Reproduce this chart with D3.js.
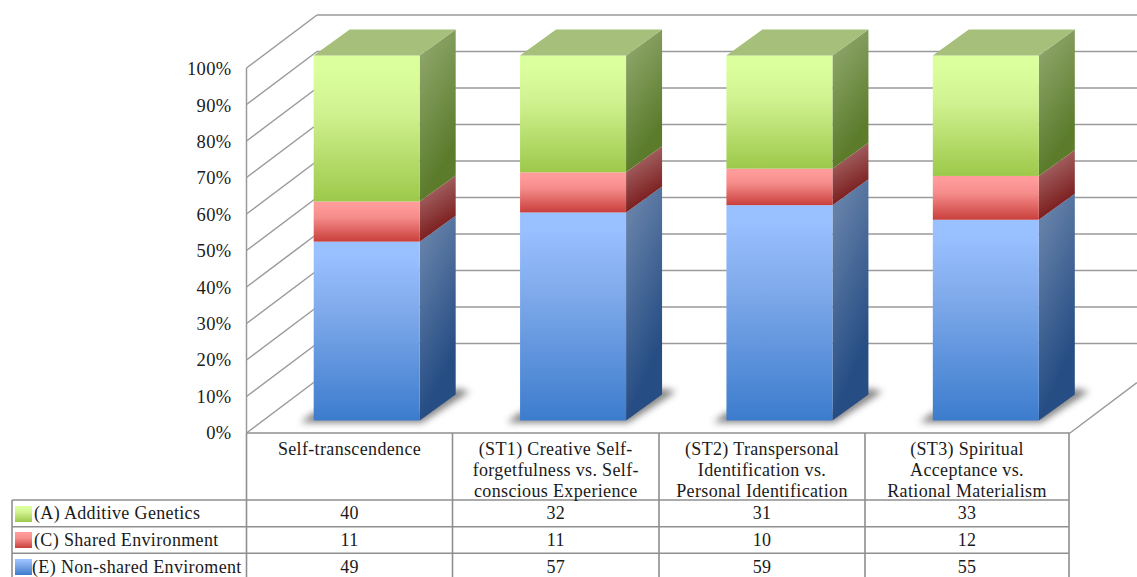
<!DOCTYPE html>
<html><head><meta charset="utf-8">
<script src="https://cdn.jsdelivr.net/npm/d3@7"></script>
<style>
html,body{margin:0;padding:0;background:#fff;overflow:hidden}
svg{display:block}
text{font-family:"Liberation Serif",serif;font-size:18px;fill:#1a1a1a;letter-spacing:.35px}
</style></head><body>
<svg id="c" width="1137" height="577"></svg>
<script>
const categories = ["Self-transcendence","(ST1) Creative Self-forgetfulness vs. Self-conscious Experience","(ST2) Transpersonal Identification vs. Personal Identification","(ST3) Spiritual Acceptance vs. Rational Materialism"];
const categoryLines = [["Self-transcendence"],["(ST1) Creative Self-","forgetfulness vs. Self-","conscious Experience"],["(ST2) Transpersonal","Identification vs.","Personal Identification"],["(ST3) Spiritual","Acceptance vs.","Rational Materialism"]];
const seriesNames = ["(A) Additive Genetics","(C) Shared Environment","(E) Non-shared Enviroment"];
const additive = [40,32,31,33];
const shared = [11,11,10,12];
const nonShared = [49,57,59,55];
const tickValues = [0,10,20,30,40,50,60,70,80,90,100];

const svg = d3.select("#c");
const defs = svg.append("defs");
const grid="#9a9a9a", tbl="#8f8f8f";

// layout
const W={l:246.5,r:1070,bot:433,top:68};
const wallD={x:70.5,y:-53};
const barD={x:36,y:-26};
const yAxisScale=d3.scaleLinear().domain([0,100]).range([W.bot-.5,W.top+1]);
const yBar=d3.scaleLinear().domain([0,100]).range([420.5,55.5]);
const yBack=d3.scaleLinear().domain([0,100]).range([380,15]);
const xBand=d3.scaleBand().domain(categories).range([W.l,1072]).paddingInner(0).paddingOuter(0);
const barW=106;
const barX=c=>xBand(c)+xBand.bandwidth()/2-barW/2+17;

// gradients
const palettes=[
 {k:"a",f:["#dcff9d","#d0f18f","#9cc94a"],s:["#8ca468","#5c7c2c"]},
 {k:"c",f:["#ff9c9b","#f58c8a","#c93f3c"],s:["#a96c6c","#7c1f1f"]},
 {k:"e",f:["#99c0ff","#7ea9ea","#3c7ccd"],s:["#6480a8","#264d84"]}];
palettes.forEach(p=>{
  const g=defs.append("linearGradient").attr("id","f"+p.k).attr("x1",0).attr("y1",0).attr("x2",0).attr("y2",1);
  g.selectAll("stop").data(p.f).join("stop").attr("offset",(d,i)=>[0.08,0.4,1][i]).attr("stop-color",d=>d);
  const s=defs.append("linearGradient").attr("id","s"+p.k).attr("x1",0).attr("y1",0).attr("x2",0.35).attr("y2",1);
  s.selectAll("stop").data(p.s).join("stop").attr("offset",(d,i)=>[0.15,0.9][i]).attr("stop-color",d=>d);
});
defs.append("filter").attr("id","blur").attr("x","-20%").attr("y","-50%").attr("width","140%").attr("height","200%")
  .append("feGaussianBlur").attr("stdDeviation",3.6);

// walls
const gWall=svg.append("g").attr("fill","none").attr("stroke",grid).attr("stroke-width",1.5);
gWall.selectAll("line.b").data(tickValues.slice(1)).join("line").attr("class","b")
  .attr("x1",W.l+wallD.x).attr("x2",1137).attr("y1",d=>yBack(d)).attr("y2",d=>yBack(d));
gWall.selectAll("line.d").data(tickValues).join("line").attr("class","d")
  .attr("x1",W.l).attr("x2",W.l+wallD.x)
  .attr("y1",d=>yBack(d)-wallD.y).attr("y2",d=>yBack(d));
gWall.append("line").attr("x1",W.l).attr("x2",W.l).attr("y1",yBack(100)-wallD.y).attr("y2",W.bot);
gWall.append("line").attr("x1",W.r).attr("y1",W.bot).attr("x2",1137).attr("y2",W.bot+ (1137-W.r)*wallD.y/wallD.x);

// axis labels
const ax=svg.append("g").attr("transform",`translate(${W.l-11},0)`)
  .call(d3.axisLeft(yAxisScale).tickValues(tickValues).tickFormat(d=>d+"%").tickSize(0).tickPadding(4));
ax.select(".domain").remove();
ax.selectAll("text").style("font-family",'"Liberation Serif",serif').style("font-size","18.5px").attr("fill","#1a1a1a");

// bars
const stacks=categories.map((c,i)=>{
  const vals=[nonShared[i],shared[i],additive[i]];
  const order=["e","c","a"];
  let acc=0;
  return vals.map((v,j)=>{const o={c,k:order[j],y0:acc,y1:acc+v};acc+=v;return o;});
});
const gBars=svg.append("g");
stacks.forEach(st=>{
  const c=st[0].c, x=barX(c);
  const g=gBars.append("g");
  const by=yBar(0);
  g.append("path").attr("filter","url(#blur)").attr("fill","#5e5e5e").attr("opacity",.8)
   .attr("d",d3.line()([[x-13,by+2],[x+barW+2,by+2],[x+barW+barD.x+14,by+barD.y-3],[x+barW+barD.x,by+barD.y-6],[x+barW,by-8],[x,by-8]])+"Z");
  st.forEach(s=>{
    const pts=[[x+barW,yBar(s.y0)],[x+barW+barD.x,yBar(s.y0)+barD.y],[x+barW+barD.x,yBar(s.y1)+barD.y],[x+barW,yBar(s.y1)]];
    g.append("path").attr("d",d3.line()(pts)+"Z").attr("fill",`url(#s${s.k})`);
  });
  st.forEach(s=>{
    g.append("rect").attr("x",x).attr("width",barW).attr("y",yBar(s.y1)).attr("height",yBar(s.y0)-yBar(s.y1)).attr("fill",`url(#f${s.k})`);
  });
  const t=st[2], ty=yBar(t.y1);
  g.append("path").attr("fill","#a6bf7b")
   .attr("d",d3.line()([[x,ty],[x+barW,ty],[x+barW+barD.x,ty+barD.y],[x+barD.x,ty+barD.y]])+"Z");
});

// table
const colEdges=[246.5,452.5,659,865,1069];
const rowEdges=[500,526.7,553.3,582];
const gT=svg.append("g").attr("stroke",tbl).attr("stroke-width",1.6).attr("fill","none");
gT.append("line").attr("x1",W.l).attr("x2",W.r).attr("y1",W.bot).attr("y2",W.bot);
colEdges.forEach(x=>gT.append("line").attr("x1",x).attr("x2",x).attr("y1",W.bot).attr("y2",582));
rowEdges.forEach(y=>gT.append("line").attr("x1",12).attr("x2",1069).attr("y1",y).attr("y2",y));
gT.append("line").attr("x1",12).attr("x2",12).attr("y1",500).attr("y2",582);

// category labels
const lineY=[454.5,475.5,496.5];
categoryLines.forEach((ls,i)=>{
  const cx=(colEdges[i]+colEdges[i+1])/2;
  svg.append("g").selectAll("text").data(ls).join("text")
    .attr("x",cx).attr("y",(d,j)=>lineY[j]).attr("text-anchor","middle").text(d=>d);
});
// rows
const rowBase=[518.5,545.5,572.5];
const rows=[additive,shared,nonShared];
const rowKeys=["a","c","e"];
rows.forEach((r,ri)=>{
  svg.append("rect").attr("x",15).attr("y",[506,532,559][ri]).attr("width",17).attr("height",16).attr("fill",`url(#f${rowKeys[ri]})`);
  svg.append("text").attr("x",ri==2?32:34).attr("y",rowBase[ri]).text(seriesNames[ri]);
  r.forEach((v,i)=>{
    svg.append("text").attr("x",(colEdges[i]+colEdges[i+1])/2).attr("y",rowBase[ri]).attr("text-anchor","middle").text(v);
  });
});
</script></body></html>
